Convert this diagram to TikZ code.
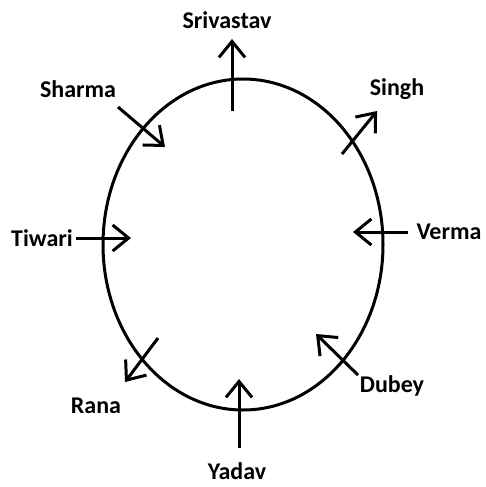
\documentclass[tikz,border=0pt]{standalone}
\usepackage{fontspec}
\setmainfont{Carlito}
\usetikzlibrary{arrows.meta}

\begin{document}
\begin{tikzpicture}[x=1pt, y=-1pt, line width=3pt,
    person/.style={font=\bfseries\fontsize{24}{28}\selectfont, inner sep=0pt},
    facing/.style={-{Straight Barb[length=16pt,width=26pt]}}]
    \useasboundingbox (0,0) rectangle (485,487);

    % Table
    \draw (243,244.5) ellipse [x radius=140pt, y radius=165.5pt];

    % Names
    \node[person] (srivastav) at (227,20) {Srivastav};
    \node[person] (sharma) at (78,89) {Sharma};
    \node[person] (singh) at (397,89) {Singh};
    \node[person] (tiwari) at (42,238) {Tiwari};
    \node[person] (verma) at (449,232) {Verma};
    \node[person] (rana) at (96,406) {Rana};
    \node[person] (dubey) at (392,386) {Dubey};
    \node[person] (yadav) at (237,471) {Yadav};

    % Arrows (which way each one faces)
    \coordinate (srivastav-a) at (232,111);
    \coordinate (srivastav-b) at (232,39);
    \coordinate (sharma-a) at (118,107);
    \coordinate (sharma-b) at (165,147);
    \coordinate (singh-a) at (342,154);
    \coordinate (singh-b) at (377,111);
    \coordinate (tiwari-a) at (76,238);
    \coordinate (tiwari-b) at (131,238);
    \coordinate (verma-a) at (408,232);
    \coordinate (verma-b) at (353,232);
    \coordinate (rana-a) at (158,338);
    \coordinate (rana-b) at (125,382);
    \coordinate (dubey-a) at (358,375);
    \coordinate (dubey-b) at (316,334);
    \coordinate (yadav-a) at (239,448);
    \coordinate (yadav-b) at (239,379);

    \draw[facing] (srivastav-a) -- (srivastav-b);
    \draw[facing] (sharma-a) -- (sharma-b);
    \draw[facing] (singh-a) -- (singh-b);
    \draw[facing] (tiwari-a) -- (tiwari-b);
    \draw[facing] (verma-a) -- (verma-b);
    \draw[facing] (rana-a) -- (rana-b);
    \draw[facing] (dubey-a) -- (dubey-b);
    \draw[facing] (yadav-a) -- (yadav-b);
\end{tikzpicture}
\end{document}
